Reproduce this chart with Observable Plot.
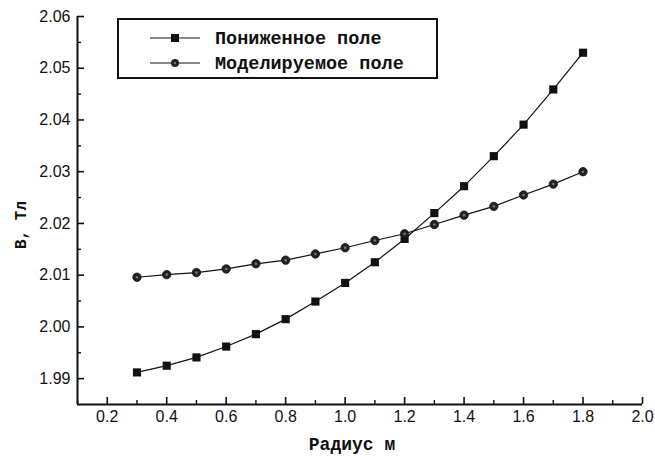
<!DOCTYPE html>
<html><head><meta charset="utf-8">
<script src="https://cdn.jsdelivr.net/npm/d3@7"></script>
<script src="https://cdn.jsdelivr.net/npm/@observablehq/plot@0.6"></script>
<style>body{margin:0;background:#fff}</style>
</head><body><div id="chart"></div>
<script>
const radius = [0.3,0.4,0.5,0.6,0.7,0.8,0.9,1.0,1.1,1.2,1.3,1.4,1.5,1.6,1.7,1.8];
const reduced = [1.9912,1.9925,1.9941,1.9962,1.9986,2.0015,2.0049,2.0085,2.0125,2.0170,2.0220,2.0272,2.0330,2.0391,2.0459,2.0530];
const modeled = [2.0096,2.0101,2.0105,2.0112,2.0122,2.0129,2.0141,2.0153,2.0167,2.0180,2.0198,2.0216,2.0233,2.0255,2.0276,2.0300];
const seriesNames = ["Пониженное поле", "Моделируемое поле"];
const xMajor = [0.2,0.4,0.6,0.8,1.0,1.2,1.4,1.6,1.8,2.0];
const xMinor = [0.1,0.3,0.5,0.7,0.9,1.1,1.3,1.5,1.7,1.9];
const yMajor = [1.99,2.00,2.01,2.02,2.03,2.04,2.05,2.06];
const yMinor = [1.995,2.005,2.015,2.025,2.035,2.045,2.055];
const xLabel = "Радиус м";
const yLabel = "B, Тл";

const rows1 = radius.map((r,i)=>({r, v: reduced[i]}));
const rows2 = radius.map((r,i)=>({r, v: modeled[i]}));
const X0 = 0.1, Y0 = 1.985;

const plot = Plot.plot({
  width: 655, height: 462,
  marginLeft: 77, marginRight: 13, marginTop: 16, marginBottom: 58,
  x: {domain: [0.1, 2.0]},
  y: {domain: [1.985, 2.06]},
  style: {fontFamily: "'Liberation Sans', Arial, sans-serif", color: "#111", background: "#fff"},
  marks: [
    Plot.axisX({ticks: xMajor, tickSize: 0, tickPadding: 6, tickFormat: d3.format(".1f"), label: null, fontSize: 16}),
    Plot.axisY({ticks: yMajor, tickSize: 0, tickPadding: 7, tickFormat: d3.format(".2f"), label: null, fontSize: 16}),
    Plot.ruleX(xMajor, {x: d=>d, y1: Y0, y2: Y0, insetTop: -7, stroke: "#111", strokeWidth: 1.6}),
    Plot.ruleX(xMinor, {x: d=>d, y1: Y0, y2: Y0, insetTop: -4, stroke: "#111", strokeWidth: 1.4}),
    Plot.ruleY(yMajor, {y: d=>d, x1: X0, x2: X0, insetRight: -7, stroke: "#111", strokeWidth: 1.6}),
    Plot.ruleY(yMinor, {y: d=>d, x1: X0, x2: X0, insetRight: -4, stroke: "#111", strokeWidth: 1.4}),
    Plot.ruleX([X0], {stroke: "#111", strokeWidth: 2}),
    Plot.ruleY([Y0], {stroke: "#111", strokeWidth: 2}),
    Plot.line(rows1, {x: "r", y: "v", stroke: "#111", strokeWidth: 1.2}),
    Plot.line(rows2, {x: "r", y: "v", stroke: "#111", strokeWidth: 1.2}),
    Plot.dot(rows1, {x: "r", y: "v", symbol: "square", r: 4.6, fill: "#111"}),
    Plot.dot(rows2, {x: "r", y: "v", symbol: "circle", r: 4.2, fill: "#222", stroke: "#111", strokeWidth: 0.8}),
    Plot.dot(rows2, {x: "r", y: "v", symbol: "circle", r: 1.3, fill: "#777"})
  ]
});
document.getElementById("chart").appendChild(plot);

const svg = d3.select(plot);
const mono = "'Liberation Mono', 'Courier New', monospace";
const lg = svg.append("g");
lg.append("rect").attr("x", 118).attr("y", 19).attr("width", 319).attr("height", 59)
  .attr("fill", "#fff").attr("stroke", "#111").attr("stroke-width", 2);
[38, 63].forEach((yy, i) => {
  lg.append("line").attr("x1", 150).attr("x2", 200).attr("y1", yy).attr("y2", yy).attr("stroke", "#111").attr("stroke-width", 1.2);
  if (i === 0) lg.append("rect").attr("x", 171).attr("y", yy-4).attr("width", 8).attr("height", 8).attr("fill", "#111");
  else { lg.append("circle").attr("cx", 175).attr("cy", yy).attr("r", 4).attr("fill", "#222");
         lg.append("circle").attr("cx", 175).attr("cy", yy).attr("r", 1.2).attr("fill", "#777"); }
  lg.append("text").attr("x", 215).attr("y", yy).attr("dy", "0.35em").text(seriesNames[i])
    .style("font-family", mono).style("font-size", "18.5px").style("font-weight", "bold")
    .style("text-anchor", "start").attr("fill", "#111");
});
svg.append("text").attr("x", 352).attr("y", 450).text(xLabel)
  .style("font-family", mono).style("font-size", "18px").style("font-weight", "bold")
  .style("text-anchor", "middle").attr("fill", "#111");
svg.append("text").attr("transform", "translate(26,225) rotate(-90)").text(yLabel)
  .style("font-family", mono).style("font-size", "16px").style("font-weight", "bold")
  .style("text-anchor", "middle").attr("fill", "#111");
</script></body></html>
